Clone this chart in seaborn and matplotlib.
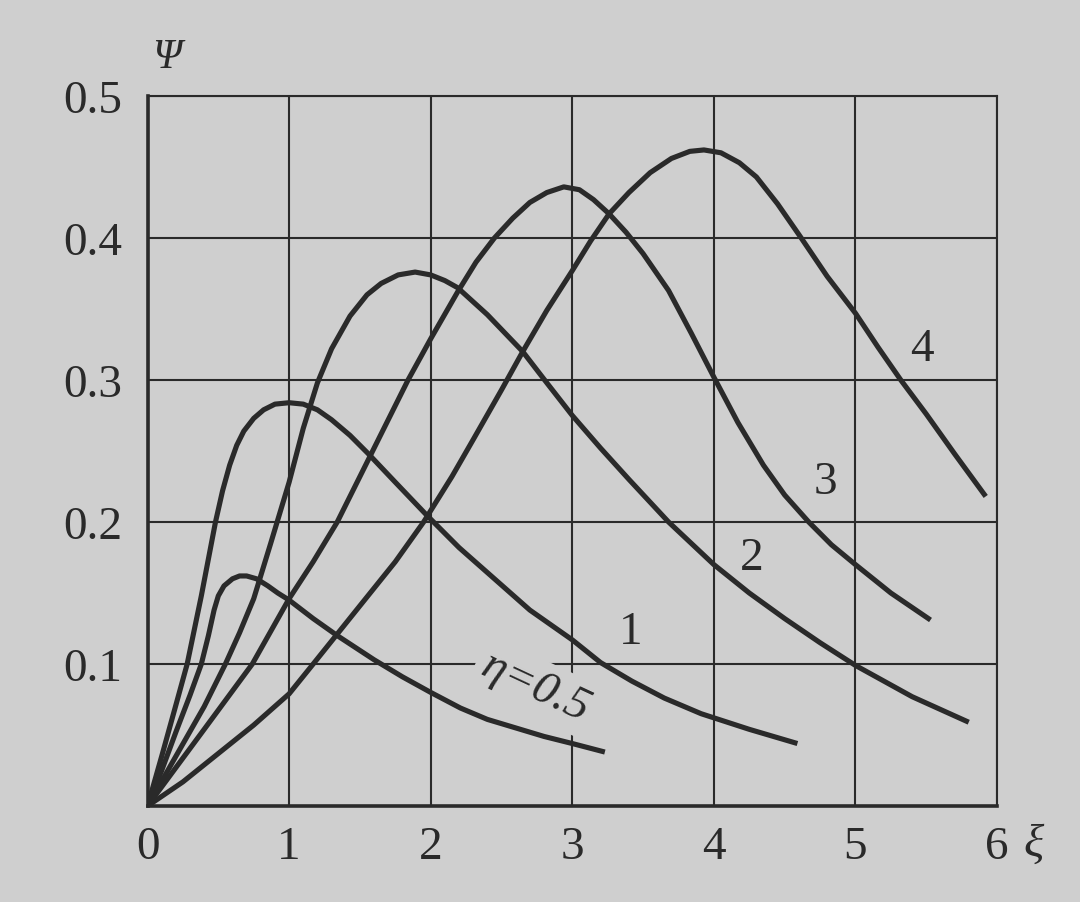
import matplotlib
matplotlib.use("Agg")
import matplotlib.pyplot as plt
import seaborn as sns
import pandas as pd

# ---- data ----
xi_05 = [0, 0.1, 0.2, 0.3, 0.38, 0.43, 0.47, 0.5, 0.54, 0.6, 0.65, 0.7, 0.77, 0.85, 0.92,
         1.0, 1.17, 1.34, 1.6, 1.8, 2.0, 2.21, 2.4, 2.6, 2.8, 3.0, 3.23]
psi_05 = [0, 0.025, 0.052, 0.078, 0.1, 0.12, 0.138, 0.148, 0.155, 0.160, 0.162, 0.162, 0.160,
          0.155, 0.150, 0.145, 0.132, 0.12, 0.103, 0.091, 0.08, 0.069, 0.061, 0.055, 0.049,
          0.044, 0.038]

xi_1 = [0, 0.1, 0.2, 0.28, 0.38, 0.48, 0.53, 0.58, 0.63, 0.68, 0.75, 0.82, 0.9, 1.0, 1.1, 1.2,
        1.3, 1.43, 1.56, 1.75, 1.97, 2.2, 2.45, 2.7, 3.0, 3.2, 3.42, 3.65, 3.91, 4.25, 4.59]
psi_1 = [0, 0.035, 0.071, 0.1, 0.148, 0.2, 0.222, 0.24, 0.254, 0.264, 0.273, 0.279, 0.283,
         0.284, 0.283, 0.279, 0.272, 0.261, 0.248, 0.228, 0.205, 0.182, 0.16, 0.138, 0.117,
         0.101, 0.088, 0.076, 0.065, 0.054, 0.044]

xi_2 = [0, 0.2, 0.4, 0.55, 0.65, 0.75, 0.87, 1.0, 1.1, 1.2, 1.3, 1.43, 1.55, 1.65, 1.77, 1.89,
        2.0, 2.1, 2.19, 2.4, 2.65, 2.82, 3.0, 3.2, 3.4, 3.68, 4.0, 4.25, 4.5, 4.75, 5.0, 5.2,
        5.4, 5.6, 5.8]
psi_2 = [0, 0.035, 0.07, 0.1, 0.122, 0.146, 0.185, 0.228, 0.266, 0.298, 0.322, 0.345, 0.36,
         0.368, 0.374, 0.376, 0.374, 0.370, 0.365, 0.346, 0.32, 0.298, 0.275, 0.252, 0.23,
         0.2, 0.17, 0.15, 0.132, 0.115, 0.099, 0.088, 0.077, 0.068, 0.059]

xi_3 = [0, 0.4, 0.74, 1.0, 1.17, 1.34, 1.58, 1.84, 2.0, 2.19, 2.32, 2.45, 2.58, 2.7, 2.82,
        2.94, 3.05, 3.15, 3.26, 3.38, 3.5, 3.68, 3.84, 4.0, 4.17, 4.35, 4.5, 4.67, 4.83, 5.0,
        5.25, 5.53]
psi_3 = [0, 0.054, 0.1, 0.146, 0.172, 0.2, 0.248, 0.3, 0.329, 0.362, 0.383, 0.40, 0.414,
         0.425, 0.432, 0.436, 0.434, 0.427, 0.417, 0.404, 0.389, 0.363, 0.333, 0.302, 0.27,
         0.24, 0.219, 0.2, 0.184, 0.17, 0.15, 0.131]

xi_4 = [0, 0.25, 0.5, 0.75, 1.0, 1.17, 1.5, 1.75, 1.95, 2.15, 2.3, 2.5, 2.65, 2.82, 3.0, 3.13,
        3.26, 3.4, 3.55, 3.7, 3.83, 3.93, 4.05, 4.18, 4.3, 4.45, 4.61, 4.8, 5.0, 5.16, 5.32,
        5.5, 5.7, 5.92]
psi_4 = [0, 0.017, 0.037, 0.057, 0.079, 0.1, 0.141, 0.172, 0.2, 0.232, 0.258, 0.293, 0.32,
         0.349, 0.377, 0.398, 0.417, 0.432, 0.446, 0.456, 0.461, 0.462, 0.460, 0.453, 0.443,
         0.424, 0.401, 0.373, 0.347, 0.323, 0.30, 0.276, 0.248, 0.218]

etas = ["0.5", "1", "2", "3", "4"]
xi_all = [xi_05, xi_1, xi_2, xi_3, xi_4]
psi_all = [psi_05, psi_1, psi_2, psi_3, psi_4]

x_ticks = [0, 1, 2, 3, 4, 5, 6]
y_ticks = [0.1, 0.2, 0.3, 0.4, 0.5]
y_tick_labels = ["0.1", "0.2", "0.3", "0.4", "0.5"]

# curve labels: (text, xi, psi)
curve_labels = [("1", 3.41, 0.1225), ("2", 4.27, 0.175), ("3", 4.79, 0.228), ("4", 5.47, 0.322)]

rows = []
for e, xs, ps in zip(etas, xi_all, psi_all):
    for x, p in zip(xs, ps):
        rows.append({"xi": x, "psi": p, "eta": e})
df = pd.DataFrame(rows)

BG = "#cfcfcf"
INK = "#2a2a2a"

sns.set_theme(style="ticks")
plt.rcParams["font.family"] = ["Liberation Serif", "DejaVu Serif"]
plt.rcParams["figure.facecolor"] = BG
plt.rcParams["axes.facecolor"] = BG

fig = plt.figure(figsize=(10.8, 9.03), dpi=100)
ax = fig.add_axes([0.1366, 0.1063, 0.7866, 0.7863])

sns.lineplot(data=df, x="xi", y="psi", hue="eta", palette=[INK] * 5,
             legend=False, ax=ax, linewidth=3.7, estimator=None, sort=False,
             solid_capstyle="butt", solid_joinstyle="round", zorder=3)

ax.set_xlim(0, 6)
ax.set_ylim(0, 0.5)
ax.set_xticks(x_ticks)
ax.set_xticklabels([str(t) for t in x_ticks])
ax.set_yticks(y_ticks)
ax.set_yticklabels(y_tick_labels)
ax.tick_params(axis="both", length=0, labelsize=34, colors=INK)
ax.tick_params(axis="y", pad=18)
ax.tick_params(axis="x", pad=14)
ax.set_xlabel("")
ax.set_ylabel("")

ax.set_axisbelow(True)
ax.grid(True, color=INK, linewidth=1.5)
for s in ["top", "right"]:
    ax.spines[s].set_linewidth(1.5)
    ax.spines[s].set_color(INK)
for s in ["left", "bottom"]:
    ax.spines[s].set_linewidth(2.6)
    ax.spines[s].set_color(INK)

for t, x, y in curve_labels:
    ax.text(x, y, t, fontsize=34, color=INK, ha="center", va="center")

ax.text(2.74, 0.0838, "η=0.5", fontsize=34, style="italic", color=INK,
        ha="center", va="center", rotation=-25, rotation_mode="anchor",
        zorder=1.5, bbox=dict(facecolor=BG, edgecolor="none", pad=5))

fig.text(167 / 1080, 1 - 58 / 903, "Ψ", fontsize=30, style="italic", color=INK,
         ha="center", va="center")
fig.text(1034 / 1080, 1 - 846 / 903, "ξ", fontsize=34, style="italic", color=INK,
         ha="center", va="center")

fig.savefig("out.png", dpi=100, facecolor=BG)
